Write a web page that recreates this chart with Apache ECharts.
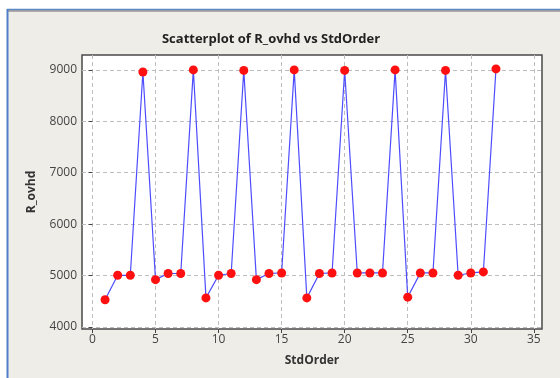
<!DOCTYPE html>
<html>
<head>
<meta charset="utf-8">
<script src="https://cdn.jsdelivr.net/npm/echarts@6/dist/echarts.min.js"></script>
<style>
html,body{margin:0;padding:0;background:#ffffff;}
#chart{width:560px;height:378px;}
</style>
</head>
<body>
<div id="chart"></div>
<script>
var stdOrder = [1,2,3,4,5,6,7,8,9,10,11,12,13,14,15,16,17,18,19,20,21,22,23,24,25,26,27,28,29,30,31,32];
var rOvhd = [4530,5005,5005,8960,4920,5040,5040,9000,4565,5005,5040,8990,4920,5040,5050,9000,4565,5040,5050,8990,5050,5050,5050,9000,4580,5050,5050,8990,5005,5050,5070,9020];
var xTicks = [0,5,10,15,20,25,30,35];
var yTicks = [4000,5000,6000,7000,8000,9000];

var pts = stdOrder.map(function(x,i){return [x, rOvhd[i]];});
var chart = echarts.init(document.getElementById('chart'), null, {renderer:'canvas'});
var font = '"Open Sans", "DejaVu Sans", sans-serif';
chart.setOption({
  backgroundColor: '#efede8',
  animation: false,
  graphic: [
    {type:'rect', shape:{x:0,y:0,width:560,height:9}, style:{fill:'#ffffff'}, silent:true},
    {type:'rect', shape:{x:0,y:9,width:7,height:369}, style:{fill:'#ffffff'}, silent:true},
    {type:'line', shape:{x1:7,y1:9.5,x2:560,y2:9.5}, style:{stroke:'#5a86c8', lineWidth:1.5}, silent:true},
    {type:'line', shape:{x1:8,y1:11,x2:560,y2:11}, style:{stroke:'#6a6a6a', lineWidth:1}, silent:true},
    {type:'line', shape:{x1:7.5,y1:9,x2:7.5,y2:378}, style:{stroke:'#4f7fc6', lineWidth:2}, silent:true}
  ],
  title: {
    text: 'Scatterplot of R_ovhd vs StdOrder',
    left: 266, top: 28, textAlign: 'center',
    textStyle: {fontFamily: font, fontSize: 13, fontWeight: 'bold', color: '#222'}
  },
  grid: {
    left: 82, right: 18, top: 55, bottom: 49,
    show: true, backgroundColor: '#ffffff', borderColor: '#4a4a4a', borderWidth: 1.5
  },
  xAxis: {
    type: 'value', min: -0.83, max: 35.65,
    name: 'StdOrder', nameLocation: 'middle', nameGap: 26,
    nameTextStyle: {fontFamily: font, fontSize: 12, fontWeight: 'bold', color: '#333'},
    axisLine: {show: false},
    axisTick: {show: true, inside: false, length: 4, customValues: xTicks, lineStyle:{color:'#444'}},
    axisLabel: {customValues: xTicks, fontFamily: font, fontSize: 12, color: '#444', margin: 5,
      formatter: function(v){return String(v);}},
    splitLine: {show: true, lineStyle: {color: '#bdbdbd', type: [4,3], width: 1}}
  },
  yAxis: {
    type: 'value', min: 3960, max: 9290,
    name: 'R_ovhd', nameLocation: 'middle', nameGap: 44, nameRotate: 90,
    nameTextStyle: {fontFamily: font, fontSize: 12, fontWeight: 'bold', color: '#333'},
    axisLine: {show: false},
    axisTick: {show: true, inside: false, length: 4, customValues: yTicks, lineStyle:{color:'#444'}},
    axisLabel: {customValues: yTicks, fontFamily: font, fontSize: 12, color: '#444', margin: 5,
      formatter: function(v){return String(v);}},
    splitLine: {show: true, lineStyle: {color: '#bdbdbd', type: [4,3], width: 1}}
  },
  series: [{
    type: 'line',
    data: pts,
    symbol: 'circle',
    symbolSize: 9,
    itemStyle: {color: '#ff1010'},
    lineStyle: {color: '#4d4dff', width: 1.2}
  }]
});
</script>
</body>
</html>
